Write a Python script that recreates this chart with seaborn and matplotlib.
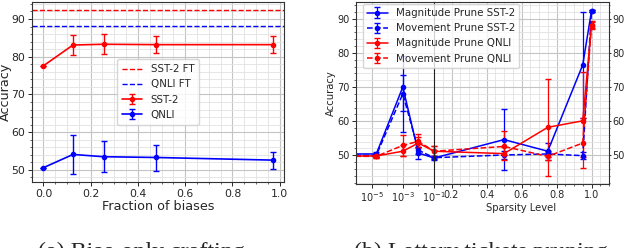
import numpy as np
import pandas as pd
import matplotlib
matplotlib.use("Agg")
import matplotlib.pyplot as plt
import seaborn as sns
from matplotlib.ticker import AutoMinorLocator, FixedLocator, NullFormatter

# ---------------- data: (a) bias-only crafting ----------------
bias_frac = [0.0, 0.125, 0.255, 0.475, 0.97]
sst2_bias = [77.6, 83.1, 83.3, 83.2, 83.2]
sst2_bias_lo = [77.6, 80.4, 80.6, 80.9, 80.9]
sst2_bias_hi = [77.6, 85.7, 85.9, 85.4, 85.6]
qnli_bias = [50.6, 54.1, 53.5, 53.3, 52.6]
qnli_bias_lo = [50.6, 48.9, 49.4, 49.8, 50.2]
qnli_bias_hi = [50.6, 59.3, 57.6, 56.6, 54.8]
sst2_ft = 92.3
qnli_ft = 88.1

# ---------------- data: (b) lottery tickets pruning ----------------
sparsity = [0.0, 2e-5, 1e-3, 1e-2, 1e-1, 0.5, 0.75, 0.95, 1.0]
mag_sst2 = [50.1, 50.4, 70.0, 50.7, 49.2, 54.6, 51.2, 76.5, 92.3]
mag_sst2_lo = [50.1, 49.6, 56.7, 49.0, 48.6, 45.6, 48.7, 61.0, 92.0]
mag_sst2_hi = [50.1, 51.0, 79.2, 52.3, 49.8, 63.6, 53.5, 92.0, 92.6]
mov_sst2 = [50.0, 50.0, 68.0, 51.5, 49.3, 50.1, 50.4, 49.9, 92.2]
mov_sst2_lo = [50.0, 49.5, 63.0, 50.5, 48.8, 49.0, 49.4, 48.9, 91.9]
mov_sst2_hi = [50.0, 50.5, 73.4, 52.5, 49.8, 51.2, 51.4, 50.9, 92.5]
mag_qnli = [49.8, 49.8, 51.2, 53.6, 51.2, 50.5, 58.2, 60.1, 88.0]
mag_qnli_lo = [49.8, 49.3, 49.7, 52.0, 49.7, 48.5, 43.9, 46.3, 87.0]
mag_qnli_hi = [49.8, 50.3, 53.0, 55.5, 52.6, 52.5, 72.3, 74.4, 89.0]
mov_qnli = [49.8, 49.7, 52.9, 54.1, 51.2, 52.6, 49.7, 53.6, 88.3]
mov_qnli_lo = [49.8, 49.2, 49.8, 52.3, 49.7, 50.0, 48.5, 49.5, 87.3]
mov_qnli_hi = [49.8, 50.2, 56.0, 56.2, 52.8, 57.2, 51.0, 61.0, 89.3]

log_ticks = [1e-5, 1e-3, 1e-1]
lin_ticks = [0.2, 0.4, 0.6, 0.8, 1.0]

sns.set_theme(style="ticks")
plt.rcParams["font.family"] = ["DejaVu Sans"]
plt.rcParams["axes.edgecolor"] = "#333333"
plt.rcParams["axes.linewidth"] = 0.8

fig = plt.figure(figsize=(6.26, 2.48), dpi=100)
W, H = 626.0, 248.0


def rect(l, t, r, b):
    return [l / W, 1 - b / H, (r - l) / W, (b - t) / H]


def style_grid(ax):
    ax.grid(True, which="major", color="#c4c4c4", linewidth=0.8)
    ax.grid(True, which="minor", color="#e2e2e2", linewidth=0.6)
    ax.set_axisbelow(True)


def yerr(v, lo, hi):
    v = np.asarray(v); lo = np.asarray(lo); hi = np.asarray(hi)
    return np.vstack([v - lo, hi - v])


# ---------------- panel (a) ----------------
axa = fig.add_axes(rect(32, 2, 284, 182))
axa.axhline(sst2_ft, color="red", ls="--", lw=1.0, label="SST-2 FT")
axa.axhline(qnli_ft, color="blue", ls="--", lw=1.0, label="QNLI FT")
axa.errorbar(bias_frac, sst2_bias, yerr=yerr(sst2_bias, sst2_bias_lo, sst2_bias_hi),
             fmt="-o", ms=3, color="red", lw=1.2, capsize=2.5, elinewidth=1.0,
             label="SST-2")
axa.errorbar(bias_frac, qnli_bias, yerr=yerr(qnli_bias, qnli_bias_lo, qnli_bias_hi),
             fmt="-o", ms=3, color="blue", lw=1.2, capsize=2.5, elinewidth=1.0,
             label="QNLI")
axa.set_xlim(-0.0485, 1.0185)
axa.set_ylim(46.8, 94.5)
axa.set_xticks([0.0, 0.2, 0.4, 0.6, 0.8, 1.0])
axa.set_yticks([50, 60, 70, 80, 90])
axa.xaxis.set_minor_locator(AutoMinorLocator())
axa.yaxis.set_minor_locator(AutoMinorLocator())
axa.tick_params(labelsize=7.8, length=3, width=0.7, pad=2)
axa.tick_params(which="minor", length=1.5, width=0.5)
axa.set_xlabel("Fraction of biases", fontsize=9.2, labelpad=1)
axa.set_ylabel("Accuracy", fontsize=9.2)
axa.yaxis.set_label_coords(-0.078, 0.5)
style_grid(axa)
axa.legend(loc="center", fontsize=7.4, framealpha=0.8, handlelength=2.0,
           borderpad=0.5, labelspacing=0.5)

# ---------------- panel (b) ----------------
ax1 = fig.add_axes(rect(356, 2, 434, 184))
ax2 = fig.add_axes(rect(434, 2, 609, 184), sharey=ax1)

series = [
    (mag_sst2, mag_sst2_lo, mag_sst2_hi, "blue", "-", "Magnitude Prune SST-2"),
    (mov_sst2, mov_sst2_lo, mov_sst2_hi, "blue", "--", "Movement Prune SST-2"),
    (mag_qnli, mag_qnli_lo, mag_qnli_hi, "red", "-", "Magnitude Prune QNLI"),
    (mov_qnli, mov_qnli_lo, mov_qnli_hi, "red", "--", "Movement Prune QNLI"),
]
for ax in (ax1, ax2):
    for v, lo, hi, c, ls, lab in series:
        ax.errorbar(sparsity, v, yerr=yerr(v, lo, hi), fmt="o", ls=ls, ms=3,
                    color=c, lw=1.1, capsize=2, elinewidth=0.9, label=lab)

ax1.set_xscale("log")
ax1.set_xlim(1e-6, 1e-1)
ax1.xaxis.set_major_locator(FixedLocator(log_ticks))
ax1.xaxis.set_minor_locator(FixedLocator([1e-4, 1e-2]))
ax1.xaxis.set_minor_formatter(NullFormatter())
ax2.set_xlim(0.1, 1.1)
ax2.set_xticks(lin_ticks)
ax2.xaxis.set_minor_locator(AutoMinorLocator())
ax1.set_ylim(41.6, 94.9)
ax1.set_yticks([50, 60, 70, 80, 90])
ax1.yaxis.set_minor_locator(AutoMinorLocator())
ax2.yaxis.tick_right()
ax2.tick_params(axis="y", labelright=True, labelleft=False)
ax1.spines["right"].set_visible(False)
ax2.spines["left"].set_color("#222222")
for ax in (ax1, ax2):
    ax.tick_params(labelsize=7.0, length=3, width=0.7, pad=1.5)
    ax.tick_params(which="minor", length=1.5, width=0.5)
    style_grid(ax)
ax2.tick_params(axis="y", which="major", length=1.5, pad=1)
ax2.tick_params(axis="y", which="minor", length=1)
ax1.set_ylabel("Accuracy", fontsize=7.2)
ax1.yaxis.set_label_coords(-0.256, 0.5)
ax2.set_xlabel("Sparsity Level", fontsize=7.2, labelpad=2)
ax2.legend(loc="upper left", bbox_to_anchor=(363 / W, 1 - 4 / H),
           bbox_transform=fig.transFigure, fontsize=7.4, framealpha=0.8,
           borderaxespad=0, handlelength=2.0, labelspacing=0.5)

# ---------------- captions (cropped at figure bottom) ----------------
fig.text(141 / W, 1 - 258 / H, "(a) Bias-only crafting", ha="center",
         va="baseline", fontsize=17.3, family=["Liberation Serif", "DejaVu Serif"])
fig.text(481 / W, 1 - 258 / H, "(b) Lottery tickets pruning", ha="center",
         va="baseline", fontsize=17.3, family=["Liberation Serif", "DejaVu Serif"])

fig.savefig("out.png", dpi=100)
